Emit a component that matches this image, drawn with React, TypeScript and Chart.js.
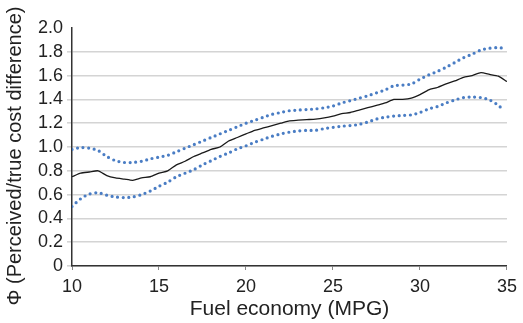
import React, { useEffect, useRef } from "react";
import { Chart, registerables } from "chart.js";

Chart.register(...registerables);

const xTicks = [10, 15, 20, 25, 30, 35];
const yTicks = [0, 0.2, 0.4, 0.6, 0.8, 1.0, 1.2, 1.4, 1.6, 1.8, 2.0];

const meanX = [10, 10.5, 11, 11.5, 12, 12.5, 13, 13.5, 14, 14.5, 15, 15.5, 16, 16.5, 17, 17.5, 18, 18.5, 19, 19.5, 20, 20.5, 21, 21.5, 22, 22.5, 23, 23.5, 24, 24.5, 25, 25.5, 26, 26.5, 27, 27.5, 28, 28.5, 29, 29.5, 30, 30.5, 31, 31.5, 32, 32.5, 33, 33.5, 34, 34.5, 35];
const meanY = [0.75, 0.78, 0.79, 0.80, 0.76, 0.74, 0.73, 0.72, 0.74, 0.75, 0.78, 0.80, 0.85, 0.88, 0.92, 0.95, 0.98, 1.00, 1.05, 1.08, 1.11, 1.14, 1.16, 1.18, 1.20, 1.22, 1.225, 1.23, 1.235, 1.245, 1.26, 1.28, 1.29, 1.31, 1.33, 1.35, 1.37, 1.40, 1.40, 1.41, 1.44, 1.48, 1.50, 1.53, 1.555, 1.585, 1.60, 1.625, 1.61, 1.595, 1.55];

const bandX = [10, 10.5, 11, 11.5, 12, 12.5, 13, 13.5, 14, 14.5, 15, 15.5, 16, 16.5, 17, 17.5, 18, 18.5, 19, 19.5, 20, 20.5, 21, 21.5, 22, 22.5, 23, 23.5, 24, 24.5, 25, 25.5, 26, 26.5, 27, 27.5, 28, 28.5, 29, 29.5, 30, 30.5, 31, 31.5, 32, 32.5, 33, 33.5, 34, 34.5, 34.8];
const upperY = [0.98, 0.995, 0.99, 0.97, 0.92, 0.885, 0.87, 0.87, 0.88, 0.90, 0.915, 0.93, 0.96, 0.99, 1.02, 1.05, 1.08, 1.11, 1.14, 1.17, 1.20, 1.225, 1.25, 1.275, 1.29, 1.305, 1.31, 1.315, 1.32, 1.33, 1.345, 1.37, 1.39, 1.41, 1.43, 1.455, 1.48, 1.515, 1.52, 1.53, 1.57, 1.605, 1.635, 1.67, 1.71, 1.75, 1.78, 1.815, 1.83, 1.835, 1.83];
const lowerY = [0.50, 0.565, 0.605, 0.615, 0.595, 0.58, 0.575, 0.58, 0.60, 0.63, 0.67, 0.705, 0.75, 0.78, 0.81, 0.85, 0.885, 0.92, 0.95, 0.985, 1.01, 1.04, 1.065, 1.09, 1.11, 1.125, 1.135, 1.14, 1.14, 1.155, 1.165, 1.175, 1.18, 1.19, 1.21, 1.235, 1.25, 1.26, 1.265, 1.27, 1.29, 1.32, 1.34, 1.37, 1.395, 1.415, 1.42, 1.415, 1.395, 1.35, 1.31];

const xTitle = "Fuel economy (MPG)";
const yTitle = "\u03A6 (Perceived/true cost difference)";

const pts = (xs: number[], ys: number[]) => xs.map((x, i) => ({ x, y: ys[i] }));

const FONT = "'Liberation Sans', Arial, Helvetica, sans-serif";

const yTitlePlugin = {
  id: "yTitlePlugin",
  afterDraw(chart: any) {
    const ctx = chart.ctx;
    ctx.save();
    ctx.translate(15, 156);
    ctx.rotate(-Math.PI / 2);
    ctx.font = `20px ${FONT}`;
    ctx.fillStyle = "#222";
    ctx.textAlign = "center";
    ctx.textBaseline = "middle";
    ctx.fillText(yTitle, 0, 0);
    ctx.restore();
  },
};

export default function App() {
  const ref = useRef<HTMLCanvasElement | null>(null);
  useEffect(() => {
    if (!ref.current) return;
    const blue = "#4a7dc4";
    const dotted = {
      borderColor: blue,
      borderWidth: 3.2,
      borderDash: [0, 5.6],
      borderCapStyle: "round" as const,
      pointRadius: 0,
      tension: 0.3,
      fill: false,
    };
    const chart = new Chart(ref.current, {
      type: "line",
      data: {
        datasets: [
          { ...dotted, label: "upper", data: pts(bandX, upperY) },
          { ...dotted, label: "lower", data: pts(bandX, lowerY) },
          {
            label: "mean",
            data: pts(meanX, meanY),
            borderColor: "#1a1a1a",
            borderWidth: 1.3,
            pointRadius: 0,
            tension: 0.2,
            fill: false,
          },
        ],
      },
      plugins: [yTitlePlugin],
      options: {
        animation: false,
        responsive: true,
        maintainAspectRatio: false,
        layout: { padding: { left: 0, top: 28, right: 10, bottom: 0 } },
        plugins: { legend: { display: false }, tooltip: { enabled: false } },
        scales: {
          x: {
            type: "linear",
            min: 10,
            max: 35,
            afterBuildTicks: (s: any) => {
              s.ticks = xTicks.map((v) => ({ value: v }));
            },
            afterFit: (s: any) => {
              s.height = 57;
            },
            grid: {
              drawOnChartArea: false,
              drawTicks: true,
              tickLength: 4,
              color: "#888",
              lineWidth: 1,
            },
            border: { display: true, color: "#333", width: 1.5 },
            ticks: {
              color: "#222",
              font: { family: FONT, size: 18 },
              padding: 6,
              maxRotation: 0,
              autoSkip: false,
            },
            title: {
              display: true,
              text: xTitle,
              color: "#222",
              font: { family: FONT, size: 21 },
              padding: { top: 0, bottom: 1 },
            },
          },
          y: {
            type: "linear",
            min: 0,
            max: 2,
            afterBuildTicks: (s: any) => {
              s.ticks = yTicks.map((v) => ({ value: v }));
            },
            afterFit: (s: any) => {
              s.width = 72;
            },
            grid: {
              drawTicks: true,
              tickLength: 5,
              color: (c: any) => (c.tick && Math.abs(c.tick.value - 2) < 1e-6 ? "rgba(0,0,0,0)" : "#d4d4d4"),
              lineWidth: 1.6,
            },
            border: { display: true, color: "#333", width: 1.5 },
            ticks: {
              color: "#222",
              font: { family: FONT, size: 18 },
              padding: 4,
              autoSkip: false,
              callback: (v: any) => (v === 0 ? "0" : Number(v).toFixed(1)),
            },
            title: { display: false },
          },
        },
      },
    });
    return () => chart.destroy();
  }, []);
  return (
    <div style={{ position: "absolute", left: 0, top: 0, width: 523, height: 323, background: "#fff" }}>
      <canvas ref={ref} />
    </div>
  );
}
